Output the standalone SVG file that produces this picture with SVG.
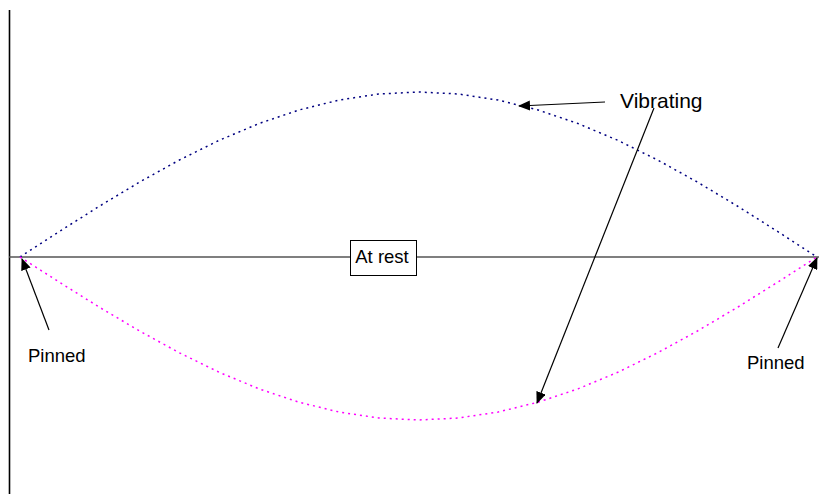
<svg xmlns="http://www.w3.org/2000/svg" width="819" height="502" viewBox="0 0 819 502">
<style>
.lbl{font-family:"Liberation Sans",Arial,sans-serif;fill:#000}
.arr{stroke:#000;stroke-width:1.2;fill:none;marker-end:url(#ah)}
.wave{fill:none;stroke-width:1.5;stroke-dasharray:2,4}
</style>
<defs>
<marker id="ah" viewBox="0 0 12 10" refX="11" refY="5" markerWidth="12" markerHeight="10" markerUnits="userSpaceOnUse" orient="auto">
<path d="M0,0 L12,5 L0,10 Z" fill="#000"/>
</marker>
</defs>
<rect width="819" height="502" fill="#fff"/>
<g id="axes">
<line x1="9.5" y1="10" x2="9.5" y2="494" stroke="#000" stroke-width="1.6"/>
<line x1="9" y1="257" x2="819" y2="257" stroke="#555" stroke-width="1.5"/>
</g>
<g id="vibrating-upper">
<polyline class="wave" stroke="#000080" points="20,257 59.85,231.2 99.7,206 139.55,182.1 179.4,160 219.25,140.3 259.1,123.5 298.95,110 338.8,100.1 378.65,94 418.5,92 458.35,94 498.2,100.1 538.05,110 577.9,123.5 617.75,140.3 657.6,160 697.45,182.1 737.3,206 777.15,231.2 817,257"/>
</g>
<g id="vibrating-lower">
<polyline class="wave" stroke="#ff00ff" points="20,257 59.85,282.5 99.7,307.4 139.55,331 179.4,352.8 219.25,372.3 259.1,388.9 298.95,402.2 338.8,412 378.65,418 418.5,420 458.35,418 498.2,412 538.05,402.2 577.9,388.9 617.75,372.3 657.6,352.8 697.45,331 737.3,307.4 777.15,282.5 817,257"/>
</g>
<g id="at-rest">
<rect x="350.5" y="240.5" width="66" height="35" fill="#fff" stroke="#000" stroke-width="1"/>
<text class="lbl" x="382" y="263" font-size="18.5" text-anchor="middle">At rest</text>
</g>
<g id="pinned-left">
<text class="lbl" x="28" y="362" font-size="18.5">Pinned</text>
</g>
<g id="pinned-right">
<text class="lbl" x="747" y="369" font-size="18.5">Pinned</text>
</g>
<g id="vibrating-label">
<text class="lbl" x="620" y="108" font-size="21">Vibrating</text>
</g>
<g id="connectors">
<line class="arr" x1="49" y1="330" x2="22" y2="259"/>
<line class="arr" x1="778" y1="348" x2="817" y2="258"/>
<line class="arr" x1="605" y1="102" x2="519" y2="106"/>
<line class="arr" x1="654" y1="108" x2="537" y2="403"/>
</g>
</svg>
